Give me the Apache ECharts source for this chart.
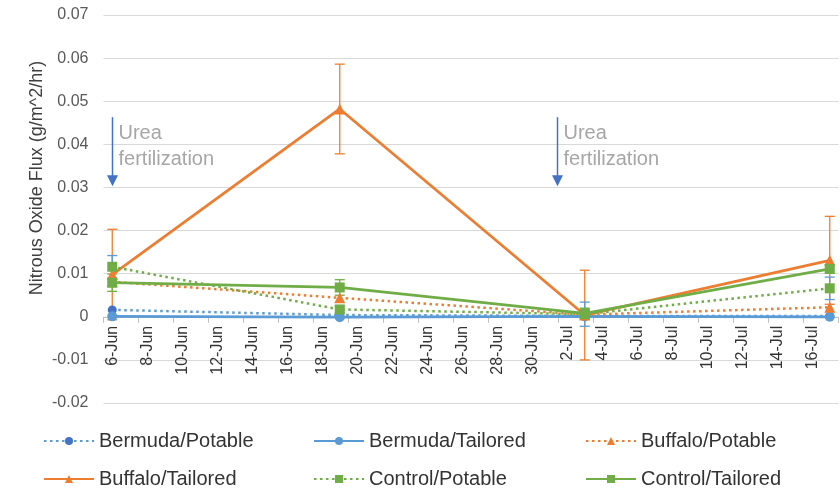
<!DOCTYPE html>
<html><head><meta charset="utf-8">
<script src="https://cdn.jsdelivr.net/npm/echarts@6/dist/echarts.min.js"></script>
<style>html,body{margin:0;padding:0;background:#fff}#c{width:840px;height:495px}</style>
</head><body><div id="c"></div>
<script>
// x-axis day categories (tick labels shown every 2 days)
const days = ['6-Jun','7-Jun','8-Jun','9-Jun','10-Jun','11-Jun','12-Jun','13-Jun','14-Jun','15-Jun',
  '16-Jun','17-Jun','18-Jun','19-Jun','20-Jun','21-Jun','22-Jun','23-Jun','24-Jun','25-Jun',
  '26-Jun','27-Jun','28-Jun','29-Jun','30-Jun','1-Jul','2-Jul','3-Jul','4-Jul','5-Jul',
  '6-Jul','7-Jul','8-Jul','9-Jul','10-Jul','11-Jul','12-Jul','13-Jul','14-Jul','15-Jul',
  '16-Jul','17-Jul'];
// sampling dates
const sampleDates = ['6-Jun','19-Jun','3-Jul','17-Jul'];
// series values (g/m^2/hr)
const bermudaPotable  = [0.0016, 0.0004, 0.0002, 0.0002];
const bermudaTailored = [0.0001, -0.0001, 0.0001, 0.0000];
const buffaloPotable  = [0.0081, 0.0044, 0.0005, 0.0022];
const buffaloTailored = [0.0098, 0.0482, 0.0004, 0.0131];
const controlPotable  = [0.0116, 0.0017, 0.0006, 0.0066];
const controlTailored = [0.0079, 0.0068, 0.0008, 0.0111];
// error bar half-widths
const errBuffaloTailored = [0.0105, 0.0104, 0.0104, 0.0102];
const errControlPotable  = [0.0026, 0.0008, 0.0028, 0.0026];
const errControlTailored = [0.0020, 0.0018, 0.0012, 0.0010];
// y axis
const yMin = -0.02, yMax = 0.07, yStep = 0.01;
// annotations (x as day index from 6-Jun, y range of arrow)
const annotX = [0, 25.4];
const annotTop = 0.0463, annotTip = 0.0303;
const annotText = 'Urea\nfertilization';

const FONT = "'Liberation Sans', Arial, sans-serif";
const BLUE = '#5B9BD5', DBLUE = '#4472C4', ORANGE = '#ED7D31', GREEN = '#70AD47';

const GRID_TOP = 15, GRID_BOTTOM = 92, H = 495;
const plotH = H - GRID_TOP - GRID_BOTTOM;
const zeroOffset = -plotH * (0 - yMin) / (yMax - yMin);

function pairs(vals){ return sampleDates.map((d,i)=>[d, vals[i]]); }
function lineSeries(name, vals, color, mcolor, dotted, symbol, size){
  return {
    type:'line', name, data: pairs(vals), symbol, symbolSize: size,
    lineStyle:{color, width: dotted?2.5:2.75, type: dotted?[2.5,3.5]:'solid'},
    itemStyle:{color: mcolor, borderColor: mcolor, borderWidth: 0},
    z: 3
  };
}
function errSeries(vals, errs, color){
  return {
    type:'custom', silent:true, z:2,
    data: sampleDates.map((d,i)=>[d, vals[i], errs[i]]),
    encode:{x:0, y:1},
    renderItem(params, api){
      const x = api.value(0), y = api.value(1), e = api.value(2);
      const t = api.coord([x, y+e]), b = api.coord([x, y-e]);
      const w = 5, st = {stroke: color, lineWidth: 1.3};
      return {type:'group', children:[
        {type:'line', shape:{x1:t[0],y1:t[1],x2:b[0],y2:b[1]}, style:st},
        {type:'line', shape:{x1:t[0]-w,y1:t[1],x2:t[0]+w,y2:t[1]}, style:st},
        {type:'line', shape:{x1:b[0]-w,y1:b[1],x2:b[0]+w,y2:b[1]}, style:st}
      ]};
    }
  };
}

const names = ['Bermuda/Potable','Bermuda/Tailored','Buffalo/Potable','Buffalo/Tailored','Control/Potable','Control/Tailored'];
const legendPos = [[43,431],[313,431],[585,431],[43,469],[313,469],[585,469]];

const chart = echarts.init(document.getElementById('c'), null, {renderer:'canvas'});
chart.setOption({
  animation:false,
  backgroundColor:'#fff',
  grid:{left:103.5, right:1.5, top:GRID_TOP, bottom:GRID_BOTTOM, containLabel:false},
  xAxis:{
    type:'category', data: days, boundaryGap:true, position:'bottom', offset: zeroOffset,
    axisLine:{onZero:false, lineStyle:{color:'#BFBFBF', width:1}},
    axisTick:{show:true, interval:1, length:6, lineStyle:{color:'#BFBFBF'}},
    axisLabel:{interval:1, rotate:90, margin:9, color:'#333', fontSize:16, fontFamily:FONT},
    splitLine:{show:false}
  },
  yAxis:{
    type:'value', min:yMin, max:yMax, interval:yStep,
    axisLine:{show:false}, axisTick:{show:false},
    axisLabel:{color:'#595959', fontSize:16, fontFamily:FONT, margin:15,
      formatter: v => Math.abs(v) < 1e-9 ? '0' : v.toFixed(2)},
    splitLine:{lineStyle:{color:'#D9D9D9', width:1}}
  },
  legend: names.map((n,i)=>({
    data:[n], left: legendPos[i][0], top: legendPos[i][1], padding:0,
    itemWidth:50, itemHeight:10, itemGap:0,
    textStyle:{fontSize:20, color:'#333', fontFamily:FONT}
  })),
  series:[
    errSeries(buffaloTailored, errBuffaloTailored, ORANGE),
    errSeries(controlPotable, errControlPotable, BLUE),
    errSeries(controlTailored, errControlTailored, GREEN),
    lineSeries('Bermuda/Potable', bermudaPotable, BLUE, DBLUE, true, 'circle', 9),
    lineSeries('Bermuda/Tailored', bermudaTailored, BLUE, BLUE, false, 'circle', 10),
    lineSeries('Buffalo/Potable', buffaloPotable, ORANGE, ORANGE, true, 'triangle', 11),
    lineSeries('Buffalo/Tailored', buffaloTailored, ORANGE, ORANGE, false, 'triangle', 11),
    lineSeries('Control/Potable', controlPotable, GREEN, GREEN, true, 'rect', 10),
    lineSeries('Control/Tailored', controlTailored, GREEN, GREEN, false, 'rect', 10)
  ]
});

function px(idx, val){
  const i0 = Math.floor(idx), f = idx - i0;
  const a = chart.convertToPixel({seriesIndex:3}, [i0, val]);
  const b = chart.convertToPixel({seriesIndex:3}, [i0+1, val]);
  return [a[0] + (b[0]-a[0])*f, a[1]];
}
const g = [];
annotX.forEach(ax => {
  const top = px(ax, annotTop), tip = px(ax, annotTip);
  const x = Math.round(top[0]) + 0.5;
  g.push({type:'line', shape:{x1:x, y1:top[1], x2:x, y2:tip[1]-9}, style:{stroke:DBLUE, lineWidth:1.5}, silent:true});
  g.push({type:'polygon', shape:{points:[[x-5.5, tip[1]-11],[x+5.5, tip[1]-11],[x, tip[1]]]}, style:{fill:DBLUE}, silent:true});
  g.push({type:'text', x: x+6, y: top[1]+3, style:{text: annotText, fill:'#A6A6A6', font:'20px '+FONT, lineHeight:26, textVerticalAlign:'top', textAlign:'left'}, silent:true});
});
g.push({type:'text', x:37, y:178, rotation:Math.PI/2,
  style:{text:'Nitrous Oxide Flux (g/m^2/hr)', fill:'#404040', font:'18px '+FONT, textAlign:'center', textVerticalAlign:'middle'}, silent:true});
chart.setOption({graphic: g});
</script>
</body></html>
